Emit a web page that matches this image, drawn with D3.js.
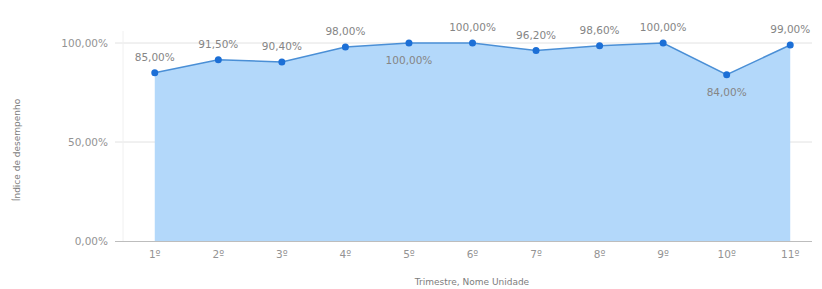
<!DOCTYPE html>
<html>
<head>
<meta charset="utf-8">
<script src="https://cdn.jsdelivr.net/npm/d3@7"></script>
<style>
    body { margin: 0; background: #fff; }
    svg { display: block; font-family: "DejaVu Sans", sans-serif; }
</style>
</head>
<body>
<div id="chart"></div>
<script>
// Dados do gráfico
const trimestres = ['1º', '2º', '3º', '4º', '5º', '6º', '7º', '8º', '9º', '10º', '11º'];
const desempenho = [85.00, 91.50, 90.40, 98.00, 100.00, 100.00, 96.20, 98.60, 100.00, 84.00, 99.00];
const rotuloAbaixo = [false, false, false, false, true, false, false, false, false, true, false];
const yTicks = [0, 50, 100];

const width = 822;
const height = 289;
const margin = { top: 43, right: 0, bottom: 48, left: 123 };
const innerWidth = width - margin.left - margin.right;
const innerHeight = height - margin.top - margin.bottom;

const fmt = v => d3.format('.2f')(v).replace('.', ',') + '%';

const svg = d3.select('#chart').append('svg')
    .attr('width', width)
    .attr('height', height);

const g = svg.append('g')
    .attr('transform', `translate(${margin.left},${margin.top})`);

// Escalas
const xScale = d3.scalePoint()
    .domain(trimestres)
    .range([0, innerWidth])
    .padding(0.5);

const yScale = d3.scaleLinear()
    .domain([0, 100])
    .range([innerHeight, 0]);

// Grade
g.append('g')
    .selectAll('line')
    .data(yTicks.filter(d => d > 0))
    .join('line')
    .attr('x1', -8)
    .attr('x2', innerWidth - 10)
    .attr('y1', d => yScale(d))
    .attr('y2', d => yScale(d))
    .attr('stroke', '#e2e2e2')
    .attr('stroke-width', 1);

// Linha vertical do eixo Y (bem clara)
g.append('line')
    .attr('x1', 0).attr('x2', 0)
    .attr('y1', -12).attr('y2', innerHeight)
    .attr('stroke', '#f0f0f0');

// Área
const area = d3.area()
    .x(d => xScale(d.cat))
    .y0(innerHeight)
    .y1(d => yScale(d.value));

const line = d3.line()
    .x(d => xScale(d.cat))
    .y(d => yScale(d.value));

const pontos = trimestres.map((cat, i) => ({ cat, value: desempenho[i], below: rotuloAbaixo[i] }));

g.append('path')
    .datum(pontos)
    .attr('d', area)
    .attr('fill', '#b3d8fa');

g.append('path')
    .datum(pontos)
    .attr('d', line)
    .attr('fill', 'none')
    .attr('stroke', '#4a8fd6')
    .attr('stroke-width', 1.5);

// Eixo X (linha base)
g.append('line')
    .attr('x1', -8)
    .attr('x2', innerWidth - 10)
    .attr('y1', innerHeight + 0.5)
    .attr('y2', innerHeight + 0.5)
    .attr('stroke', '#bdbdbd');

// Pontos
g.selectAll('circle.point')
    .data(pontos)
    .join('circle')
    .attr('class', 'point')
    .attr('cx', d => xScale(d.cat))
    .attr('cy', d => yScale(d.value))
    .attr('r', 3.5)
    .attr('fill', '#1c6fd6');

// Rótulos de dados
g.selectAll('text.label')
    .data(pontos)
    .join('text')
    .attr('class', 'label')
    .attr('x', d => xScale(d.cat))
    .attr('y', d => yScale(d.value) + (d.below ? 21 : -12))
    .attr('text-anchor', 'middle')
    .attr('font-size', 10.5)
    .attr('fill', '#858585')
    .text(d => fmt(d.value));

// Rótulos do eixo Y
g.selectAll('text.ytick')
    .data(yTicks)
    .join('text')
    .attr('class', 'ytick')
    .attr('x', -15)
    .attr('y', d => yScale(d) + 4)
    .attr('text-anchor', 'end')
    .attr('font-size', 10.5)
    .attr('fill', '#939393')
    .text(d => fmt(d));

// Rótulos do eixo X
g.selectAll('text.xtick')
    .data(trimestres)
    .join('text')
    .attr('class', 'xtick')
    .attr('x', d => xScale(d))
    .attr('y', innerHeight + 17)
    .attr('text-anchor', 'middle')
    .attr('font-size', 10.5)
    .attr('fill', '#939393')
    .text(d => d);

// Títulos dos eixos
svg.append('text')
    .attr('x', 472)
    .attr('y', 285)
    .attr('text-anchor', 'middle')
    .attr('font-size', 9)
    .attr('fill', '#7d7d7d')
    .text('Trimestre, Nome Unidade');

svg.append('text')
    .attr('transform', 'translate(20,150) rotate(-90)')
    .attr('text-anchor', 'middle')
    .attr('font-size', 9)
    .attr('fill', '#7d7d7d')
    .text('Índice de desempenho');
</script>
</body>
</html>
